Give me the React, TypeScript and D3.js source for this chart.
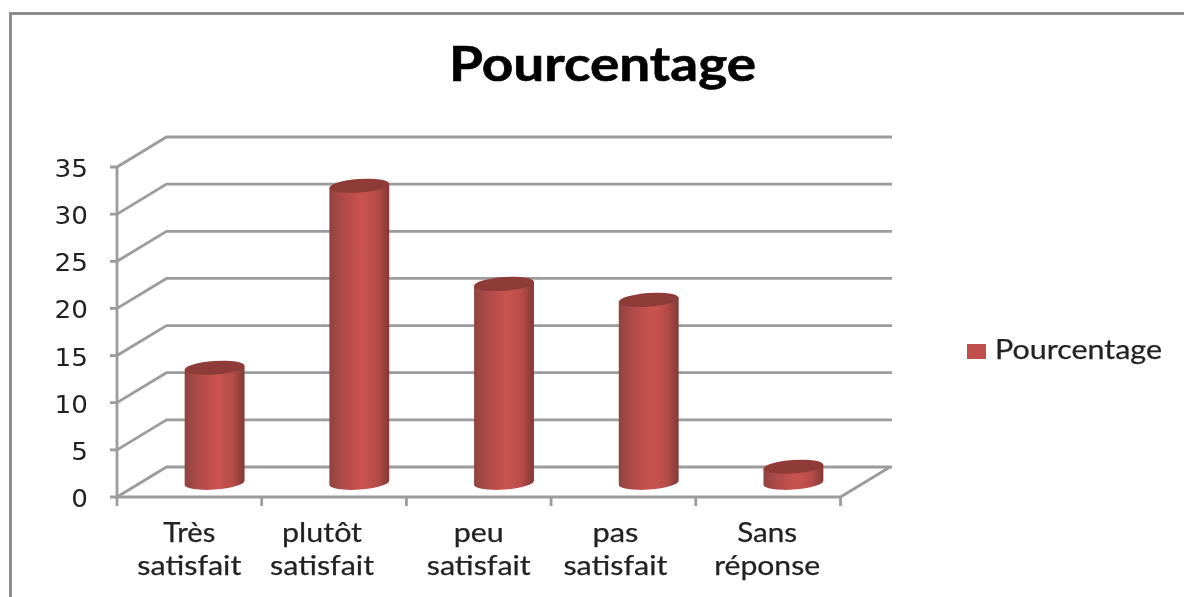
import React from "react";
import * as d3 from "d3";

const categories = [["Très", "satisfait"], ["plutôt", "satisfait"], ["peu", "satisfait"], ["pas", "satisfait"], ["Sans", "réponse"]];
const values = [12.2, 31.5, 21.1, 19.4, 1.7];
const yTicks = [0, 5, 10, 15, 20, 25, 30, 35];
const seriesName = "Pourcentage";
const labelShift = [0, -12, 0, -8, -1];
const labelLengths = [[52, 104], [80, 104], [50, 104], [46, 104], [60, 106]];

const W = 1184, H = 597;
const AX = "#9c9c9c";
const x = d3.scaleBand<number>().domain(d3.range(categories.length)).range([117, 840.5]);
const y = d3.scaleLinear().domain([0, 35]).range([497, 167]);
const dx = 49.5, dy = -30;
const RX = 30, RY = 6.8, TILT = -4;

function ellipseY(cx: number, cy: number, side: number) {
  const t = (TILT * Math.PI) / 180;
  return [cx + side * RX * Math.cos(t), cy + side * RX * Math.sin(t)];
}

export default function App() {
  const sans = "Lato, 'Noto Sans', sans-serif";
  return (
    <svg width={W} height={H} style={{ position: "absolute", left: 0, top: 0, background: "#fff" }}>
      <defs>
        <linearGradient id="cyl" x1="0" x2="1" y1="0" y2="0">
          <stop offset="0" stopColor="#8f4341" />
          <stop offset="0.2" stopColor="#ad4a47" />
          <stop offset="0.55" stopColor="#cb5350" />
          <stop offset="0.8" stopColor="#b64d4a" />
          <stop offset="1" stopColor="#823836" />
        </linearGradient>
        <filter id="soft" x="-5%" y="-5%" width="110%" height="110%">
          <feGaussianBlur stdDeviation="0.5" />
        </filter>
      </defs>
      <g filter="url(#soft)">
        <path d={`M10.5 597V13.5H1184`} fill="none" stroke="#8c8c8c" strokeWidth={3} />
        <text x={449} y={81} fontFamily={sans} fontWeight={700} fontSize={47} fill="#000" textLength={307} lengthAdjust="spacingAndGlyphs" stroke="#000" strokeWidth={0.6}>{seriesName}</text>

        {yTicks.map((t) => (
          <g key={t}>
            <path d={`M110 ${y(t)}H${x.range()[0]}L${x.range()[0] + dx} ${y(t) + dy}H892`} fill="none" stroke={AX} strokeWidth={2.8} />
            <text x={88} y={y(t) + 10} textAnchor="end" fontFamily="'DejaVu Sans', sans-serif" fontSize={25} fill="#222" transform={`translate(88 0) scale(1.05 1) translate(-88 0)`}>{t}</text>
          </g>
        ))}
        <path d={`M117 167V497H840.5L890 467`} fill="none" stroke={AX} strokeWidth={2.8} />
        {d3.range(categories.length + 1).map((i) => {
          const px = 117 + i * x.step();
          return <path key={i} d={`M${px} 497v9`} stroke={AX} strokeWidth={2.8} />;
        })}

        {values.map((v, i) => {
          const cx = x(i)! + x.bandwidth() / 2 + dx / 2 + 0.5;
          const base = y(0) + dy / 2 + 0.8;
          const top = y(v) + dy / 2 + 0.8;
          const [lx, lyT] = ellipseY(cx, top, -1);
          const [rx, ryT] = ellipseY(cx, top, 1);
          const [, lyB] = ellipseY(cx, base, -1);
          const [, ryB] = ellipseY(cx, base, 1);
          return (
            <g key={i}>
              <path
                d={`M${lx} ${lyT}L${lx} ${lyB}A${RX} ${RY} ${TILT} 0 0 ${rx} ${ryB}L${rx} ${ryT}Z`}
                fill="url(#cyl)"
              />
              <ellipse cx={cx} cy={top} rx={RX} ry={RY} transform={`rotate(${TILT} ${cx} ${top})`} fill="#8f3b39" />
            </g>
          );
        })}

        {categories.map((lines, i) => {
          const cx = x(i)! + x.bandwidth() / 2 + labelShift[i];
          return (
            <g key={i}>
              {lines.map((l, j) => (
                <text key={j} x={cx} y={542 + j * 33} textAnchor="middle" fontFamily={sans} fontSize={27} fill="#222" stroke="#222" strokeWidth={0.25} textLength={labelLengths[i][j]} lengthAdjust="spacingAndGlyphs">{l}</text>
              ))}
            </g>
          );
        })}

        <rect x={967} y={344} width={19} height={15} fill="#c0504d" />
        <text x={995} y={359} fontFamily={sans} fontSize={27} fill="#222" stroke="#222" strokeWidth={0.25} textLength={167} lengthAdjust="spacingAndGlyphs">{seriesName}</text>
      </g>
    </svg>
  );
}
